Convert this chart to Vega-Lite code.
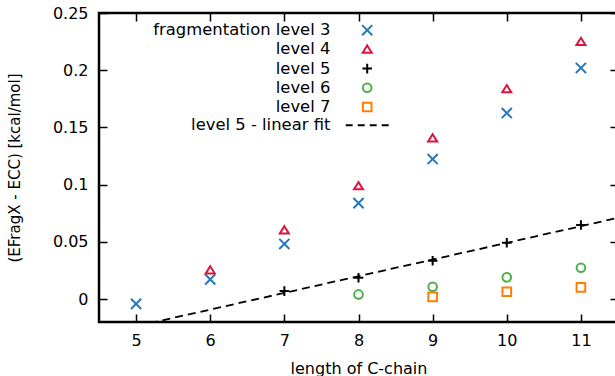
{
  "$schema": "https://vega.github.io/schema/vega-lite/v6.json",
  "width": 519,
  "height": 309,
  "autosize": {"type": "none"},
  "padding": {"left": 99, "top": 13, "right": 0, "bottom": 54},
  "background": "white",
  "config": {
    "view": {"stroke": "black", "strokeWidth": 2.5},
    "font": "DejaVu Sans",
    "axis": {
      "labelFont": "DejaVu Sans",
      "titleFont": "DejaVu Sans",
      "labelFontSize": 16,
      "titleFontSize": 16,
      "titleFontWeight": "normal",
      "labelColor": "black",
      "titleColor": "black",
      "tickColor": "black",
      "tickWidth": 1.5,
      "tickSize": -8,
      "domain": false,
      "grid": false
    },
    "legend": {
      "labelFont": "DejaVu Sans",
      "labelFontSize": 16.4,
      "labelColor": "black"
    }
  },
  "datasets": {
    "points": [
      {"length": 5, "series": "fragmentation level 3", "value": -0.0042},
      {"length": 6, "series": "fragmentation level 3", "value": 0.0172},
      {"length": 7, "series": "fragmentation level 3", "value": 0.0482},
      {"length": 8, "series": "fragmentation level 3", "value": 0.0839},
      {"length": 9, "series": "fragmentation level 3", "value": 0.1224},
      {"length": 10, "series": "fragmentation level 3", "value": 0.1626},
      {"length": 11, "series": "fragmentation level 3", "value": 0.202},
      {"length": 6, "series": "level 4", "value": 0.0253},
      {"length": 7, "series": "level 4", "value": 0.0603},
      {"length": 8, "series": "level 4", "value": 0.0988},
      {"length": 9, "series": "level 4", "value": 0.1407},
      {"length": 10, "series": "level 4", "value": 0.1836},
      {"length": 11, "series": "level 4", "value": 0.2249},
      {"length": 7, "series": "level 5", "value": 0.007},
      {"length": 8, "series": "level 5", "value": 0.0186},
      {"length": 9, "series": "level 5", "value": 0.0335},
      {"length": 10, "series": "level 5", "value": 0.0492},
      {"length": 11, "series": "level 5", "value": 0.0647},
      {"length": 8, "series": "level 6", "value": 0.0041},
      {"length": 9, "series": "level 6", "value": 0.0108},
      {"length": 10, "series": "level 6", "value": 0.019},
      {"length": 11, "series": "level 6", "value": 0.0274},
      {"length": 9, "series": "level 7", "value": 0.002},
      {"length": 10, "series": "level 7", "value": 0.0064},
      {"length": 11, "series": "level 7", "value": 0.0102}
    ],
    "fit": [
      {"length": 4.5, "value": -0.031},
      {"length": 11.5, "value": 0.071}
    ]
  },
  "layer": [
    {
      "mark": {"type": "rule", "color": "black", "strokeWidth": 1, "strokeDash": [2, 2]},
      "encoding": {
        "y": {"datum": 0, "type": "quantitative", "scale": {"domain": [-0.02, 0.25]}, "axis": null}
      }
    },
    {
      "data": {"name": "fit"},
      "mark": {"type": "line", "color": "black", "strokeWidth": 1.8, "strokeDash": [8, 5], "clip": true},
      "encoding": {
        "x": {"field": "length", "type": "quantitative", "scale": {"domain": [4.5, 11.5], "nice": false, "zero": false},
          "axis": {"orient": "top", "values": [5, 6, 7, 8, 9, 10, 11], "labels": false, "title": null}},
        "y": {"field": "value", "type": "quantitative", "scale": {"domain": [-0.02, 0.25], "nice": false, "zero": false},
          "axis": {"orient": "right", "values": [0, 0.05, 0.1, 0.15, 0.2, 0.25], "labels": false, "title": null}}
      }
    },
    {
      "data": {"name": "points"},
      "mark": {"type": "point", "filled": false, "strokeWidth": 2, "size": 144, "opacity": 1},
      "encoding": {
        "x": {"field": "length", "type": "quantitative", "scale": {"domain": [4.5, 11.5], "nice": false, "zero": false},
          "axis": {"orient": "bottom", "values": [5, 6, 7, 8, 9, 10, 11], "labelPadding": 18, "title": "length of C-chain", "titlePadding": 12}},
        "y": {"field": "value", "type": "quantitative", "scale": {"domain": [-0.02, 0.25], "nice": false, "zero": false},
          "axis": {"orient": "left", "values": [0, 0.05, 0.1, 0.15, 0.2, 0.25], "format": "~g", "labelPadding": 19, "title": "(EFragX - ECC) [kcal/mol]", "titlePadding": 30, "titleFontSize": 15}},
        "color": {
          "field": "series", "type": "nominal",
          "scale": {
            "domain": ["fragmentation level 3", "level 4", "level 5", "level 6", "level 7", "level 5 - linear fit"],
            "range": ["#2678b8", "#dc143c", "#000000", "#4daf4a", "#ff7f00", "#000000"]
          },
          "legend": {
            "orient": "none", "legendX": 235, "legendY": 9, "title": null, "padding": 0,
            "rowPadding": 1.2, "labelAlign": "right", "labelOffset": -45, "symbolOffset": 25,
            "labelLimit": 400, "symbolSize": 144, "symbolStrokeWidth": 2
          }
        },
        "shape": {
          "field": "series", "type": "nominal",
          "scale": {
            "domain": ["fragmentation level 3", "level 4", "level 5", "level 6", "level 7", "level 5 - linear fit"],
            "range": [
              "M-0.85,-0.85L0.85,0.85M-0.85,0.85L0.85,-0.85",
              "M0,-0.65L0.75,0.55L-0.75,0.55Z",
              "M-0.8,0H0.8M0,-0.8V0.8",
              "M0.72,0A0.72,0.72,0,1,1,-0.72,0A0.72,0.72,0,1,1,0.72,0Z",
              "M-0.72,-0.72H0.72V0.72H-0.72Z",
              "M-3.58,0H-2.42M-1.58,0H-0.42M0.42,0H1.58M2.42,0H3.58"
            ]
          }
        }
      }
    }
  ],
  "resolve": {"axis": {"x": "independent", "y": "independent"}}
}
